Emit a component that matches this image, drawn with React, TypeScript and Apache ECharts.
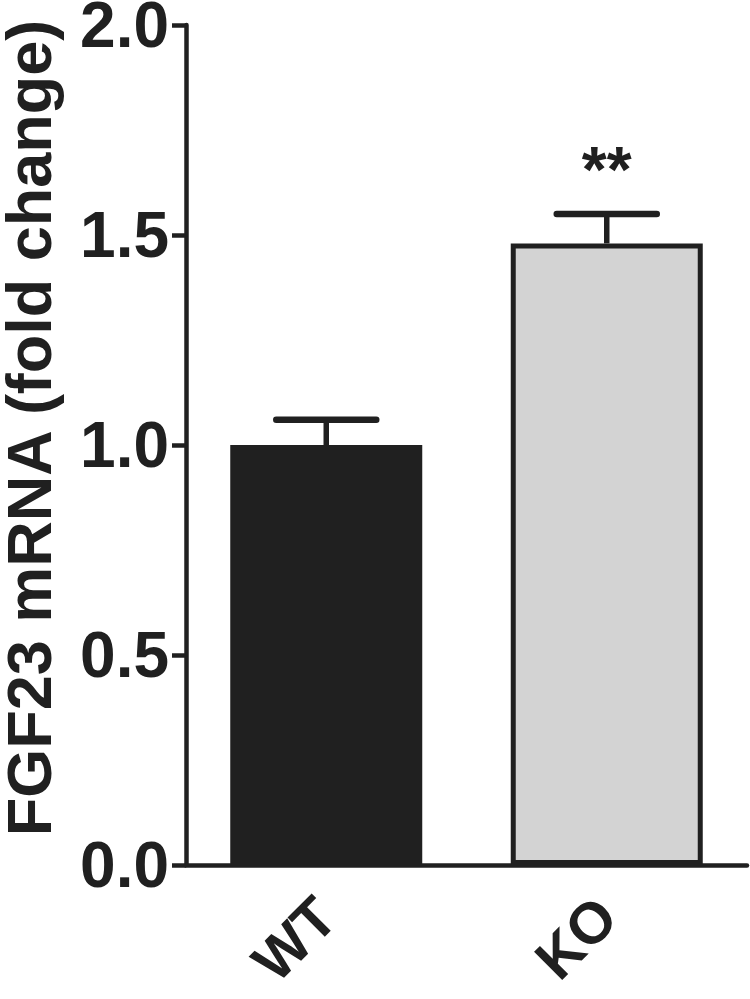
import React, { useEffect, useRef } from "react";
import * as echarts from "echarts";

const categories = ["WT", "KO"];
const means = [1.0, 1.48];
const sems = [0.06, 0.07];
const significance = ["", "**"];
const barColors = ["#202020", "#d3d3d3"];
const yTicks = [0, 0.5, 1.0, 1.5, 2.0];

const INK = "#202020";
const SANS = "'Liberation Sans', Arial, Helvetica, sans-serif";

export default function App() {
  const ref = useRef<HTMLDivElement>(null);
  useEffect(() => {
    if (!ref.current) return;
    const chart = echarts.init(ref.current, undefined, { renderer: "svg" });
    const option = {
      animation: false,
      backgroundColor: "#ffffff",
      grid: {
        left: 186,
        right: 3,
        top: 25,
        bottom: 134,
        containLabel: false,
        outerBoundsMode: "none",
      },
      xAxis: {
        type: "category",
        data: categories,
        axisLine: { lineStyle: { color: INK, width: 4.5 } },
        axisTick: { alignWithLabel: true, length: 15, lineStyle: { color: INK, width: 4.5 } },
        axisLabel: {
          rotate: 45,
          margin: 42,
          color: INK,
          fontFamily: SANS,
          fontWeight: "bold",
          fontSize: 58,
        },
      },
      yAxis: {
        type: "value",
        min: yTicks[0],
        max: yTicks[yTicks.length - 1],
        interval: 0.5,
        name: "FGF23 mRNA (fold change)",
        nameLocation: "middle",
        nameGap: 126,
        nameTextStyle: {
          color: INK,
          fontFamily: SANS,
          fontWeight: "bold",
          fontSize: 63,
          padding: [0, 0, 0, 34],
        },
        splitLine: { show: false },
        axisLine: { show: true, lineStyle: { color: INK, width: 4.5 } },
        axisTick: { show: true, length: 14, lineStyle: { color: INK, width: 4.5 } },
        axisLabel: {
          margin: 17,
          color: INK,
          fontFamily: SANS,
          fontWeight: "bold",
          fontSize: 64,
          formatter: (v: number) => v.toFixed(1),
        },
      },
      series: [
        {
          type: "bar",
          barWidth: 192,
          data: means.map((m, i) => ({
            value: m,
            itemStyle: { color: barColors[i], borderColor: INK, borderWidth: 5 },
          })),
          z: 2,
        },
        {
          type: "custom",
          z: 3,
          data: means.map((m, i) => [i, m, sems[i]]),
          renderItem: (params: any, api: any) => {
            const i = api.value(0);
            const m = api.value(1);
            const s = api.value(2);
            const idx = params.dataIndex;
            const base = api.coord([i, m]);
            const top = api.coord([i, m + s]);
            const half = 50;
            const children: any[] = [
              {
                type: "line",
                shape: { x1: base[0], y1: base[1], x2: top[0], y2: top[1] },
                style: { stroke: INK, lineWidth: 5.5 },
              },
              {
                type: "line",
                shape: { x1: top[0] - half, y1: top[1], x2: top[0] + half, y2: top[1] },
                style: { stroke: INK, lineWidth: 6.5, lineCap: "round" },
              },
            ];
            const sig = significance[idx];
            if (sig) {
              children.push({
                type: "text",
                x: top[0],
                y: top[1] - 44,
                style: {
                  text: sig,
                  fill: INK,
                  fontFamily: SANS,
                  fontWeight: "bold",
                  fontSize: 64,
                  textAlign: "center",
                  textVerticalAlign: "middle",
                },
              });
            }
            return { type: "group", children };
          },
        },
      ],
    };
    chart.setOption(option as any);
    return () => chart.dispose();
  }, []);
  return <div ref={ref} style={{ width: 750, height: 999, position: "absolute", left: 0, top: 0 }} />;
}
